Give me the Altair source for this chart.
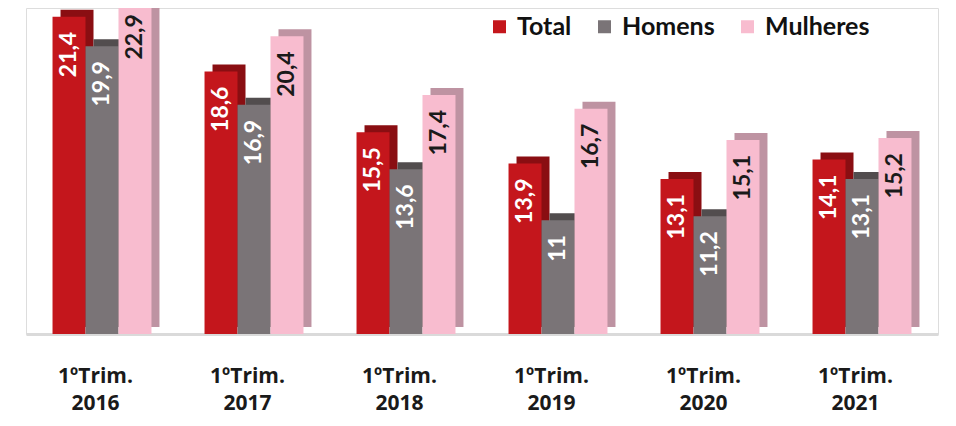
import altair as alt
import pandas as pd

periods = ["1ºTrim. 2016", "1ºTrim. 2017", "1ºTrim. 2018",
           "1ºTrim. 2019", "1ºTrim. 2020", "1ºTrim. 2021"]
series = ["Total", "Homens", "Mulheres"]
total = [21.4, 18.6, 15.5, 13.9, 13.1, 14.1]
homens = [19.9, 16.9, 13.6, 11, 11.2, 13.1]
mulheres = [22.9, 20.4, 17.4, 16.7, 15.1, 15.2]

front_colors = ["#C4161C", "#7A7477", "#F8BCCF"]
side_colors = ["#8A0E12", "#524D4E", "#BE93A2"]

rows = []
for j, (vals, s) in enumerate(zip([total, homens, mulheres], series)):
    for i, (p, v) in enumerate(zip(periods, vals)):
        rows.append({"gi": i, "sj": j, "periodo": p, "serie": s, "valor": v})
df = pd.DataFrame(rows)

FONT = "Lato"
BW = 0.217  # bar width in group units
ymin, ymax = 5.18, 21.85

label_array = "[" + ",".join("'" + p + "'" for p in periods) + "]"

x_axis = alt.Axis(title=None, ticks=False, grid=False, values=list(range(len(periods))),
                  labelExpr="split(" + label_array + "[datum.value], ' ')",
                  labelFont="Open Sans", labelFontWeight="bold", labelFontSize=21,
                  labelColor="#1a1a1a", labelLineHeight=27, labelAngle=0,
                  labelPadding=31, labelOffset=-7, labelBaseline="top",
                  labelFlush=False, labelOverlap=False,
                  domainColor="#DADADA", domainWidth=3)
x_scale = alt.Scale(domain=[-0.5, len(periods) - 0.5], nice=False, zero=False)
y_scale = alt.Scale(domain=[ymin, ymax], nice=False, zero=False)

base = alt.Chart(df).transform_calculate(
    x0="datum.gi + (datum.sj - 1.5) * %f" % BW,
    x1="datum.gi + (datum.sj - 0.5) * %f" % BW,
    xm="datum.gi + (datum.sj - 1) * %f" % BW,
)

side = base.mark_bar(clip=True, xOffset=8, x2Offset=8, yOffset=-7, y2Offset=-7).encode(
    x=alt.X("x0:Q", scale=x_scale, axis=x_axis),
    x2="x1:Q",
    y=alt.Y("valor:Q", scale=y_scale, axis=None),
    y2=alt.datum(ymin),
    color=alt.Color("serie:N", sort=series,
                    scale=alt.Scale(domain=series, range=side_colors), legend=None),
)

front = base.mark_bar(clip=True).encode(
    x=alt.X("x0:Q", scale=x_scale, axis=x_axis),
    x2="x1:Q",
    y=alt.Y("valor:Q", scale=y_scale, axis=None),
    y2=alt.datum(ymin),
    color=alt.Color("serie:N", sort=series,
                    scale=alt.Scale(domain=series, range=front_colors),
                    legend=alt.Legend(title=None, orient="none", direction="horizontal",
                                      legendX=461, legendY=6, symbolType="square",
                                      symbolSize=169, symbolStrokeWidth=0,
                                      labelFont=FONT, labelFontWeight="bold",
                                      labelFontSize=25, labelColor="#111111",
                                      columnPadding=20, labelOffset=5)),
)

labels = base.transform_calculate(
    txt="replace(format(datum.valor, '~g'), '.', ',')",
    ypos="min(datum.valor, 22.3)",
).mark_text(angle=270, align="right", baseline="middle", dx=-15,
            font=FONT, fontWeight="bold", fontSize=23).encode(
    x=alt.X("xm:Q", scale=x_scale, axis=x_axis),
    y=alt.Y("ypos:Q", scale=y_scale, axis=None),
    text="txt:N",
    color=alt.condition(alt.datum.serie == "Mulheres", alt.value("#1a1a1a"), alt.value("white")),
)

chart = alt.layer(side, front, labels).resolve_scale(color="independent").properties(
    width=912, height=326,
    autosize=alt.AutoSizeParams(type="none"),
    padding={"left": 18, "top": 0, "right": 10, "bottom": 84},
).configure_view(stroke=None).configure(background="white")

chart.save("out.html", embed_options={"renderer": "svg", "actions": False})
